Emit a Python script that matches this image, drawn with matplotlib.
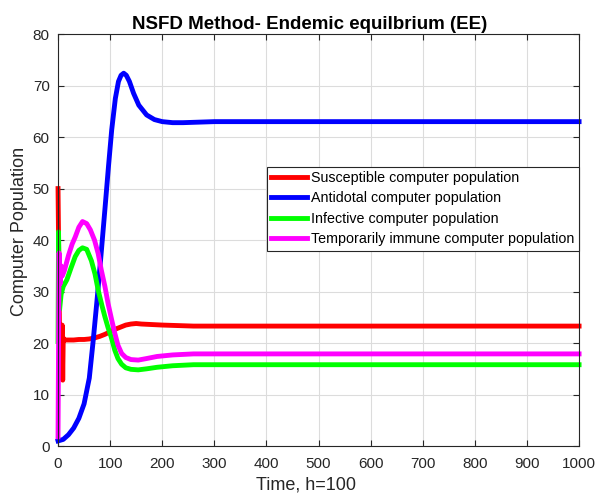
import numpy as np
import matplotlib.pyplot as plt

plt.rcParams['font.family'] = ['Liberation Sans', 'DejaVu Sans']

# czas i wartosci dla kazdej populacji
t_s = [0, 3, 7, 8, 9, 10, 12, 20, 30, 40, 50, 60, 70, 80, 90, 100, 110, 120, 130,
       140, 150, 160, 180, 200, 230, 260, 300, 400, 600, 800, 1000]
s = [50, 21, 21, 23.5, 12.8, 21, 20.6, 20.6, 20.6, 20.7, 20.7, 20.8, 21.0, 21.3,
     21.7, 22.2, 22.7, 23.1, 23.5, 23.7, 23.8, 23.7, 23.6, 23.5, 23.4, 23.3, 23.3,
     23.3, 23.3, 23.3, 23.3]

t_a = [0, 10, 20, 30, 40, 50, 60, 67, 75, 82, 90, 97, 103, 110, 116, 121, 126,
       131, 137, 145, 155, 170, 185, 200, 220, 240, 270, 300, 400, 600, 800, 1000]
a = [1, 1.3, 2.2, 3.5, 5.4, 8.2, 13.2, 20.0, 28.5, 36.5, 46.0, 54.5, 61.4, 67.5,
     70.8, 72.0, 72.4, 72.0, 70.8, 68.5, 66.2, 64.3, 63.4, 63.0, 62.8, 62.8, 62.9,
     63.0, 63.0, 63.0, 63.0, 63.0]

t_i = [0, 1, 3, 6, 10, 17, 25, 33, 40, 47, 55, 64, 71, 77, 84, 90, 96, 102, 109,
       115, 122, 130, 140, 154, 170, 190, 220, 260, 400, 600, 800, 1000]
i_ = [20.3, 41.6, 26.5, 29.5, 31.0, 32.3, 34.6, 36.8, 38.0, 38.5, 38.2, 36.0, 33.4,
      30.3, 27.4, 25.1, 23.0, 21.2, 18.6, 17.0, 15.9, 15.2, 14.9, 14.8, 15.0, 15.3,
      15.6, 15.8, 15.8, 15.8, 15.8, 15.8]

t_t = [0, 2, 4, 6, 8, 12, 20, 27, 33, 40, 47, 55, 62, 70, 77, 83, 90, 96, 103,
       109, 115, 122, 130, 140, 154, 170, 190, 220, 260, 400, 600, 800, 1000]
tm = [1.8, 37.5, 31.5, 35.0, 33.0, 34.0, 37.0, 39.2, 40.6, 42.5, 43.6, 43.2, 42.0,
      40.0, 37.4, 34.2, 31.0, 27.7, 24.5, 21.9, 19.6, 18.0, 17.2, 16.8, 16.7, 17.0,
      17.4, 17.7, 17.9, 17.9, 17.9, 17.9, 17.9]

fig = plt.figure(figsize=(5.97, 4.94), dpi=100)
ax = fig.add_axes([0.0972, 0.097, 0.8728, 0.834])

lw = 3.5
ax.plot(t_s, s, color=(1, 0, 0), lw=lw, label='Susceptible computer population', clip_on=False)
ax.plot(t_a, a, color=(0, 0, 1), lw=lw, label='Antidotal computer population', clip_on=False)
ax.plot(t_i, i_, color=(0, 1, 0), lw=lw, label='Infective computer population', clip_on=False)
ax.plot(t_t, tm, color=(1, 0, 1), lw=lw, label='Temporarily immune computer population', clip_on=False)

ax.set_xlim(0, 1000)
ax.set_ylim(0, 80)
ax.set_xticks(np.arange(0, 1001, 100))
ax.set_yticks(np.arange(0, 81, 10))
ax.grid(True, color='#dcdcdc', lw=0.8)
ax.set_axisbelow(True)
ax.tick_params(direction='in', top=True, right=True, labelsize=11, length=4,
               colors='#262626', labelcolor='#262626')
ax.tick_params(axis='y', pad=6)
ax.tick_params(axis='x', pad=8)
for sp in ax.spines.values():
    sp.set_color('#262626')
    sp.set_linewidth(0.8)

ax.set_title('NSFD Method- Endemic equilbrium (EE)', fontsize=13.5, fontweight='bold',
             pad=4, x=0.483)
ax.set_xlabel('Time, h=100', fontsize=13, color='#262626', labelpad=0)
ax.xaxis.set_label_coords(0.476, -0.075)
ax.set_ylabel('Computer Population', fontsize=13, color='#262626', labelpad=3)
ax.yaxis.set_label_coords(-0.058, 0.52)

leg = ax.legend(loc='upper right', bbox_to_anchor=(0.999, 0.678), borderaxespad=0,
                fontsize=10.3, fancybox=False, framealpha=1, edgecolor='#262626',
                handlelength=2.5, handletextpad=0.3, borderpad=0.3, labelspacing=0.45)
leg.get_frame().set_linewidth(0.8)

plt.savefig('out.png', dpi=100)
